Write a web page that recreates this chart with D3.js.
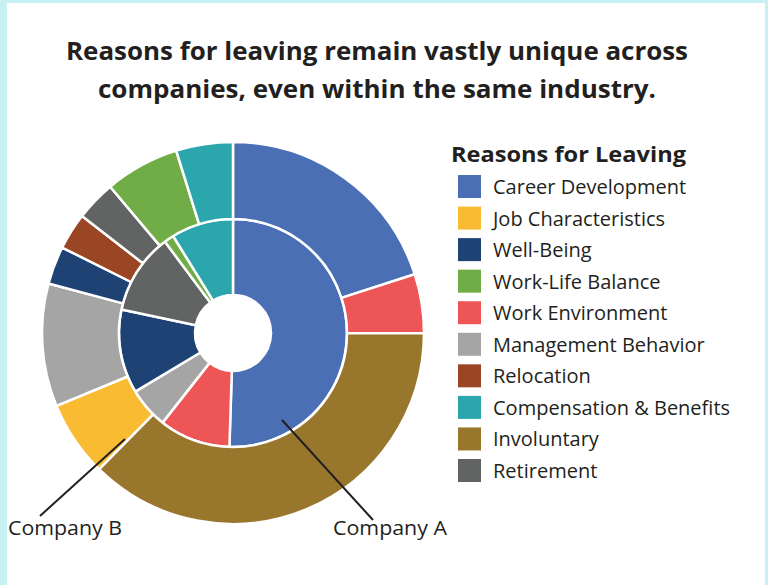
<!DOCTYPE html>
<html>
<head>
<meta charset="utf-8">
<script src="https://cdn.jsdelivr.net/npm/d3@7"></script>
<style>
  html, body { margin: 0; padding: 0; background: #c8f1f3; }
  svg { display: block; }
  text { font-family: "Open Sans", "Noto Sans", sans-serif; fill: #231f20; }
</style>
</head>
<body>
<div id="chart"></div>
<script>
// legend order
const reasons = [
    'Career Development',
    'Job Characteristics',
    'Well-Being',
    'Work-Life Balance',
    'Work Environment',
    'Management Behavior',
    'Relocation',
    'Compensation & Benefits',
    'Involuntary',
    'Retirement',
];
const reasonColors = [
    '#4a6fb5', '#f9bb32', '#1f4275', '#70ad47', '#ee5556',
    '#a5a5a5', '#9a4624', '#2ba6ad', '#98772d', '#626463',
];

// order the slices run clockwise from 12 o'clock
const sliceOrder = [
    'Career Development',
    'Work Environment',
    'Involuntary',
    'Job Characteristics',
    'Management Behavior',
    'Well-Being',
    'Relocation',
    'Retirement',
    'Work-Life Balance',
    'Compensation & Benefits',
];
// share of leavers (%) - inner ring
const companyA = [50.5, 10.1, 0, 0, 5.8, 11.9, 0, 11.5, 1.4, 8.8];
// share of leavers (%) - outer ring
const companyB = [20.0, 5.0, 37.3, 6.4, 10.4, 3.2, 3.1, 3.4, 6.3, 4.8];

const titleLines = [
    'Reasons for leaving remain vastly unique across',
    'companies, even within the same industry.',
];

const width = 768;
const height = 585;
const cx = 233;
const cy = 333;

const color = d3.scaleOrdinal().domain(reasons).range(reasonColors);

const svg = d3.select('#chart').append('svg')
    .attr('width', width)
    .attr('height', height);

// white card
svg.append('rect')
    .attr('x', 7).attr('y', 3)
    .attr('width', 758).attr('height', height)
    .attr('fill', '#fff');

// title
svg.append('g')
    .selectAll('text')
    .data(titleLines)
    .join('text')
    .attr('x', 377)
    .attr('y', (d, i) => 60 + i * 38)
    .attr('text-anchor', 'middle')
    .attr('font-size', 25)
    .attr('font-weight', 700)
    .attr('textLength', (d, i) => (i === 0 ? 622 : 558))
    .attr('lengthAdjust', 'spacingAndGlyphs')
    .text(d => d);

const pie = d3.pie().sort(null).value(d => d.value);

const rings = [
    { values: companyA, inner: 38, outer: 114 },
    { values: companyB, inner: 114, outer: 191 },
];

const donut = svg.append('g').attr('transform', `translate(${cx},${cy})`);

rings.forEach(ring => {
    const data = sliceOrder.map((name, i) => ({ name, value: ring.values[i] }));
    const arc = d3.arc().innerRadius(ring.inner).outerRadius(ring.outer);
    donut.append('g')
        .selectAll('path')
        .data(pie(data).filter(d => d.data.value > 0))
        .join('path')
        .attr('d', arc)
        .attr('fill', d => color(d.data.name))
        .attr('stroke', '#fff')
        .attr('stroke-width', 2.5)
        .attr('stroke-linejoin', 'round');
});

// leader lines + company labels
const labels = [
    { text: 'Company B', x: 8, y: 535, from: [40, 516], to: [125, 439] },
    { text: 'Company A', x: 333, y: 535, from: [373, 520], to: [282, 420] },
];
const labelG = svg.append('g');
labelG.selectAll('line')
    .data(labels)
    .join('line')
    .attr('x1', d => d.from[0]).attr('y1', d => d.from[1])
    .attr('x2', d => d.to[0]).attr('y2', d => d.to[1])
    .attr('stroke', '#231f20')
    .attr('stroke-width', 2);
labelG.selectAll('text')
    .data(labels)
    .join('text')
    .attr('x', d => d.x)
    .attr('y', d => d.y)
    .attr('font-size', 20)
    .attr('textLength', 114)
    .attr('lengthAdjust', 'spacingAndGlyphs')
    .text(d => d.text);

// legend
const legend = svg.append('g').attr('transform', 'translate(451,0)');
legend.append('text')
    .attr('x', 0)
    .attr('y', 162)
    .attr('font-size', 22)
    .attr('font-weight', 700)
    .attr('textLength', 235)
    .attr('lengthAdjust', 'spacingAndGlyphs')
    .text('Reasons for Leaving');

const rowY = d3.scalePoint().domain(reasons).range([175, 459]);

const item = legend.selectAll('.item')
    .data(reasons)
    .join('g')
    .attr('class', 'item')
    .attr('transform', d => `translate(0,${rowY(d)})`);
item.append('rect')
    .attr('x', 7)
    .attr('width', 23)
    .attr('height', 23)
    .attr('fill', d => color(d));
item.append('text')
    .attr('x', 42)
    .attr('y', 19)
    .attr('font-size', 20)
    .text(d => d);
</script>
</body>
</html>
